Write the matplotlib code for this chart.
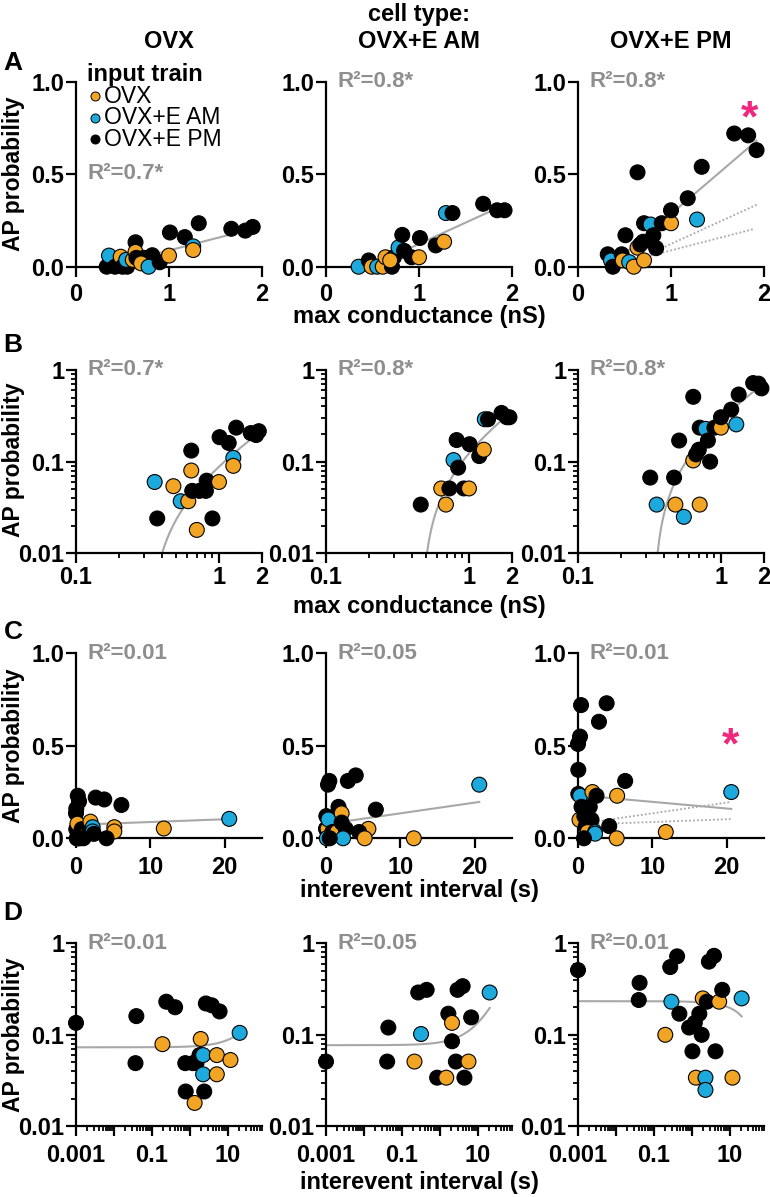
import numpy as np
import matplotlib.pyplot as plt
from matplotlib.ticker import FixedLocator, NullFormatter

plt.rcParams['font.family'] = ['Liberation Sans', 'DejaVu Sans']
plt.rcParams['font.weight'] = 'bold'

W, H = 770, 1197

# input train colours
clr = {'o': '#F2A424', 'b': '#1EA9DC', 'k': 'black'}
legend_keys = ['o', 'b', 'k']
legend_names = ['OVX', 'OVX+E AM', 'OVX+E PM']
col_titles = ['OVX', 'OVX+E AM', 'OVX+E PM']

# ---- max conductance (nS) vs AP probability, panels A and B
cond1 = [0.33, 0.37, 0.355, 0.42, 0.48, 0.50, 0.55, 0.54, 0.61, 0.64, 0.64, 0.65, 0.73,
         0.81, 0.82, 0.70, 0.78, 0.90, 1.0, 1.01, 1.17, 1.26, 1.26, 1.32, 1.67, 1.82, 1.90]
probc1 = [0, 0.024, 0.06, 0, 0.054, 0, 0, 0.037, 0.037, 0.132, 0.08, 0.048, 0.048,
          0.048, 0.062, 0.018, 0, 0.024, 0.06, 0.185, 0.16, 0.11, 0.09, 0.235, 0.205, 0.195, 0.215]
grpc1 = ['k', 'k', 'b', 'k', 'o', 'k', 'k', 'b', 'o', 'k', 'o', 'k', 'k',
         'k', 'k', 'o', 'b', 'k', 'o', 'k', 'k', 'b', 'o', 'k', 'k', 'k', 'k']

cond2 = [0.35, 0.46, 0.49, 0.55, 0.61, 0.64, 0.71, 0.73, 0.69, 0.78, 0.82, 0.84, 0.92,
         1.0, 1.01, 1.18, 1.27, 1.29, 1.36, 1.69, 1.84, 1.92]
probc2 = [0, 0.034, 0, 0, 0, 0.051, 0, 0.051, 0.034, 0.104, 0.172, 0.086, 0.051,
          0.051, 0.155, 0.115, 0.135, 0.29, 0.29, 0.34, 0.305, 0.305]
grpc2 = ['b', 'k', 'o', 'b', 'o', 'o', 'k', 'k', 'o', 'b', 'k', 'k', 'k',
         'o', 'k', 'k', 'o', 'b', 'k', 'k', 'k', 'k']

cond3 = [0.32, 0.355, 0.375, 0.47, 0.48, 0.55, 0.51, 0.64, 0.60, 0.64, 0.67, 0.70, 0.71,
         0.71, 0.78, 0.81, 0.84, 0.90, 1.0, 1.0, 1.18, 1.28, 1.33, 1.68, 1.83, 1.92]
probc3 = [0.067, 0.034, 0, 0.067, 0.034, 0.025, 0.17, 0.51, 0, 0.103, 0.12, 0.135, 0.034,
          0.235, 0.228, 0.17, 0.10, 0.235, 0.235, 0.305, 0.37, 0.255, 0.54, 0.72, 0.71, 0.63]
grpc3 = ['k', 'b', 'k', 'k', 'o', 'b', 'k', 'k', 'o', 'o', 'k', 'k', 'o',
         'k', 'b', 'k', 'k', 'k', 'o', 'k', 'k', 'b', 'k', 'k', 'k', 'k']

# ---- interevent interval (s) vs AP probability, panels C and D
ivl1 = [0.001, 0.039, 0.037, 0.19, 0.24, 0.41, 0.76, 1.2, 1.5, 0.78, 1.34, 1.8, 1.94, 2.24,
        2.24, 2.4, 2.65, 3.8, 6.1, 5.15, 5.15, 11.8, 20.6, 0.2, 0.1, 0.5, 1.0, 4.1]
probi1 = [0.135, 0.16, 0.049, 0.079, 0.23, 0.20, 0.049, 0.049, 0.049, 0.024, 0.018, 0.06, 0.09, 0.06,
          0.037, 0.024, 0.22, 0.21, 0.18, 0.06, 0.037, 0.053, 0.105, 0, 0, 0, 0, 0]
grpi1 = ['k', 'k', 'k', 'o', 'k', 'k', 'k', 'k', 'k', 'k', 'o', 'k', 'o', 'b',
         'b', 'k', 'k', 'k', 'k', 'o', 'o', 'o', 'b', 'b', 'k', 'k', 'k', 'k']

ivl2 = [0.001, 0.044, 0.041, 0.215, 0.32, 0.27, 0.45, 0.85, 1.48, 1.68, 2.1, 2.1, 2.65, 2.94,
        4.0, 5.7, 4.45, 6.7, 20.6, 11.8, 5.2, 2.3, 0.1, 0.5]
probi2 = [0.051, 0.12, 0.051, 0.051, 0.102, 0.29, 0.31, 0.034, 0.034, 0.17, 0.135, 0.085, 0.051, 0.31,
          0.34, 0.051, 0.034, 0.155, 0.29, 0, 0, 0, 0, 0]
grpi2 = ['k', 'k', 'k', 'o', 'b', 'k', 'k', 'k', 'o', 'k', 'o', 'k', 'k', 'k',
         'k', 'o', 'k', 'k', 'b', 'o', 'o', 'b', 'b', 'k']

ivl3 = [0.001, 0.042, 0.040, 0.29, 0.27, 0.41, 0.2, 0.47, 0.85, 1.2, 1.58, 1.82, 1.04, 1.28,
        2.29, 2.29, 1.94, 2.49, 2.82, 3.85, 5.26, 6.34, 4.2, 11.8, 20.6, 0.8, 5.2]
probi3 = [0.51, 0.37, 0.24, 0.23, 0.55, 0.72, 0.10, 0.17, 0.12, 0.135, 0.17, 0.10, 0.066, 0.034,
          0.034, 0.025, 0.25, 0.23, 0.63, 0.73, 0.23, 0.31, 0.066, 0.034, 0.25, 0, 0]
grpi3 = ['k', 'k', 'k', 'b', 'k', 'k', 'o', 'k', 'k', 'k', 'k', 'k', 'k', 'o',
         'b', 'b', 'o', 'k', 'k', 'k', 'o', 'k', 'k', 'o', 'b', 'k', 'o']

# linear regression lines (slope, intercept)
cond_slope = [0.13, 0.23, 0.43]
cond_icpt = [-0.042, -0.107, -0.145]
ivl_slope = [0.0015, 0.0058, -0.0036]
ivl_icpt = [0.073, 0.077, 0.233]
r2_cond = ['R\u00b2=0.7*', 'R\u00b2=0.8*', 'R\u00b2=0.8*']
r2_ivl = ['R\u00b2=0.01', 'R\u00b2=0.05', 'R\u00b2=0.01']

conds = [cond1, cond2, cond3]
probcs = [probc1, probc2, probc3]
grpcs = [grpc1, grpc2, grpc3]
ivls = [ivl1, ivl2, ivl3]
probis = [probi1, probi2, probi3]
grpis = [grpi1, grpi2, grpi3]

fit_grey = '#A8A8A8'
r2_grey = '#8E8E8E'
star_pink = '#F0287D'

fig = plt.figure(figsize=(W / 100, H / 100), dpi=100)

col_left = [76, 326, 578]
col_w = 186
row_top = [81.7, 370, 653.3, 943.3]
row_h = [185, 183.3, 185, 183]
xpad = [5, 2, 6, 6]


def add_ax(r, c):
    return fig.add_axes([col_left[c] / W, 1 - (row_top[r] + row_h[r]) / H,
                         col_w / W, row_h[r] / H])


def style(ax, r):
    for s in ['top', 'right']:
        ax.spines[s].set_visible(False)
    for s in ['left', 'bottom']:
        ax.spines[s].set_linewidth(1.6)
    ax.tick_params(which='major', length=7, width=1.6, labelsize=17)
    ax.tick_params(which='minor', length=3.5, width=1.3)
    ax.tick_params(axis='x', which='major', pad=xpad[r])
    ax.tick_params(axis='y', which='major', pad=1.5)


def dots(ax, x, y, g, logy=False):
    x = np.array(x)
    y = np.array(y)
    keep = y > 0 if logy else np.ones(len(y), bool)
    cols = [clr[gg] for gg, k in zip(g, keep) if k]
    ax.scatter(x[keep], y[keep], s=115, c=cols, edgecolors='black',
               linewidths=0.8, zorder=3, clip_on=False)


def log_minor(lo_exp, hi_exp, top):
    v = [m * 10.0 ** e for e in range(lo_exp, hi_exp) for m in range(2, 10)]
    return [t for t in v if t <= top]


for c in range(3):
    x = np.array(conds[c])
    xi = np.array(ivls[c])

    # A: linear conductance
    ax = add_ax(0, c)
    style(ax, 0)
    xs = np.linspace(x.min(), x.max(), 600)
    ax.plot(xs, cond_slope[c] * xs + cond_icpt[c], color=fit_grey, lw=1.5, zorder=2)
    if c == 2:
        for k in range(2):
            xo = np.linspace(min(conds[k]), max(conds[k]), 300)
            ax.plot(xo, cond_slope[k] * xo + cond_icpt[k], color=fit_grey, lw=1.3,
                    ls=(0, (1, 1.2)), zorder=2)
        ax.text(1.84, 0.793, '*', color=star_pink, fontsize=32, ha='center', va='center')
    dots(ax, x, probcs[c], grpcs[c])
    ax.set_xlim(0, 2)
    ax.set_ylim(0, 1)
    ax.set_xticks([0, 1, 2], ['0', '1', '2'])
    ax.set_yticks([0, 0.5, 1], ['0.0', '0.5', '1.0'])
    if c == 0:
        ax.text(0.06, 0.506, r2_cond[c], color=r2_grey, fontsize=16, va='center',
                transform=ax.transAxes)
        ax.text(0.059, 1.04, 'input train', fontsize=17, va='center',
                transform=ax.transAxes, clip_on=False)
        for i, (k, nm) in enumerate(zip(legend_keys, legend_names)):
            yy = 0.922 - i * 0.116
            ax.plot([0.102], [yy], 'o', ms=6.5, mfc=clr[k], mec='black', mew=0.7,
                    transform=ax.transAxes, clip_on=False)
            ax.text(0.152, yy, nm, fontsize=16.5, fontweight='normal', va='center',
                    transform=ax.transAxes)
    else:
        ax.text(0.06, 1.0, r2_cond[c], color=r2_grey, fontsize=16, va='center',
                transform=ax.transAxes)

    # B: log-log conductance
    ax = add_ax(1, c)
    style(ax, 1)
    ax.set_xscale('log')
    ax.set_yscale('log')
    ys = cond_slope[c] * xs + cond_icpt[c]
    ok = ys > 0
    ax.plot(xs[ok], ys[ok], color=fit_grey, lw=1.5, zorder=2)
    dots(ax, x, probcs[c], grpcs[c], logy=True)
    ax.set_xlim(0.1, 2)
    ax.set_ylim(0.01, 1)
    ax.set_xticks([0.1, 1, 2], ['0.1', '1', '2'])
    ax.xaxis.set_minor_locator(FixedLocator([0.2, 0.3, 0.4, 0.5, 0.6, 0.7, 0.8, 0.9]))
    ax.xaxis.set_minor_formatter(NullFormatter())
    ax.set_yticks([0.01, 0.1, 1], ['0.01', '0.1', '1'])
    ax.yaxis.set_minor_locator(FixedLocator(log_minor(-2, 0, 1)))
    ax.yaxis.set_minor_formatter(NullFormatter())
    ax.text(0.06, 1.0, r2_cond[c], color=r2_grey, fontsize=16, va='center',
            transform=ax.transAxes)

    # C: linear interval
    ax = add_ax(2, c)
    style(ax, 2)
    xs2 = np.linspace(0, xi.max(), 300)
    ax.plot(xs2, ivl_slope[c] * xs2 + ivl_icpt[c], color=fit_grey, lw=1.5, zorder=2)
    if c == 2:
        for k in range(2):
            xo = np.linspace(0, max(ivls[k]), 300)
            ax.plot(xo, ivl_slope[k] * xo + ivl_icpt[k], color=fit_grey, lw=1.3,
                    ls=(0, (1, 1.2)), zorder=2)
        ax.text(20.5, 0.494, '*', color=star_pink, fontsize=32, ha='center', va='center')
    dots(ax, xi, probis[c], grpis[c])
    ax.set_xlim(0, 25)
    ax.set_ylim(0, 1)
    ax.set_xticks([0, 10, 20], ['0', '10', '20'])
    ax.set_yticks([0, 0.5, 1], ['0.0', '0.5', '1.0'])
    ax.text(0.06, 1.0, r2_ivl[c], color=r2_grey, fontsize=16, va='center',
            transform=ax.transAxes)

    # D: log-log interval
    ax = add_ax(3, c)
    style(ax, 3)
    ax.set_xscale('log')
    ax.set_yscale('log')
    xs3 = np.geomspace(0.001, xi.max(), 300)
    ax.plot(xs3, ivl_slope[c] * xs3 + ivl_icpt[c], color=fit_grey, lw=1.5, zorder=2)
    dots(ax, xi, probis[c], grpis[c], logy=True)
    ax.set_xlim(0.001, 80)
    ax.set_ylim(0.01, 1)
    ax.set_xticks([0.001, 0.01, 0.1, 1, 10], ['0.001', '', '0.1', '', '10'])
    ax.xaxis.set_minor_locator(FixedLocator(log_minor(-3, 2, 80)))
    ax.xaxis.set_minor_formatter(NullFormatter())
    ax.set_yticks([0.01, 0.1, 1], ['0.01', '0.1', '1'])
    ax.yaxis.set_minor_locator(FixedLocator(log_minor(-2, 0, 1)))
    ax.yaxis.set_minor_formatter(NullFormatter())
    ax.text(0.06, 1.0, r2_ivl[c], color=r2_grey, fontsize=16, va='center',
            transform=ax.transAxes)

# column titles
col_cx = [169, 419, 671]
fig.text(col_cx[1] / W, 1 - 15 / H, 'cell type:', fontsize=17, ha='center', va='center')
for c in range(3):
    fig.text(col_cx[c] / W, 1 - 42 / H, col_titles[c], fontsize=17, ha='center', va='center')

# row letters
for lab, yy in zip(['A', 'B', 'C', 'D'], [63, 345, 632, 913]):
    fig.text(13 / W, 1 - yy / H, lab, fontsize=19, ha='center', va='center')

# y labels
for yy in [174, 460, 746, 1035]:
    fig.text(14 / W, 1 - yy / H, 'AP probability', fontsize=16.5, rotation=90,
             ha='center', va='center')

# x labels
for txt, yy in zip(['max conductance (nS)', 'max conductance (nS)',
                    'interevent interval (s)', 'interevent interval (s)'],
                   [316, 606, 890, 1183]):
    fig.text(419 / W, 1 - yy / H, txt, fontsize=17, ha='center', va='center')

fig.savefig('out.png', dpi=100)
